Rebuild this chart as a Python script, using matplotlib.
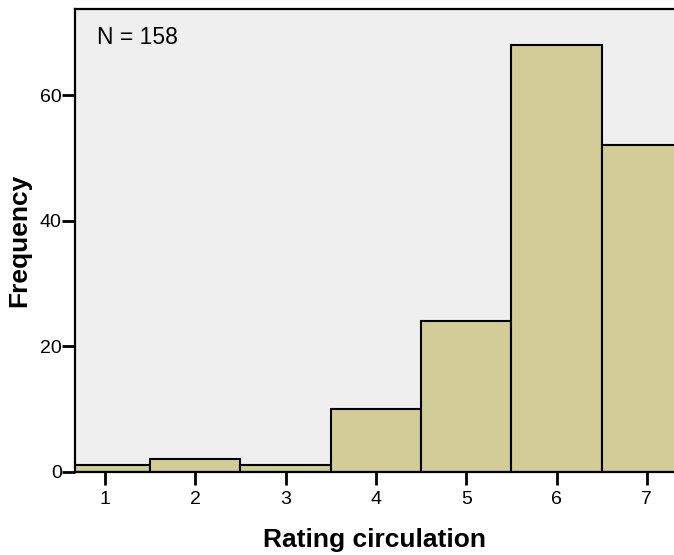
import numpy as np
import matplotlib.pyplot as plt

plt.rcParams['font.family'] = ['Liberation Sans', 'DejaVu Sans']

ratings = [1, 2, 3, 4, 5, 6, 7]
counts = [1, 2, 1, 10, 24, 68, 52]
yticks = [0, 20, 40, 60]

fig = plt.figure(figsize=(6.74, 5.55), dpi=100)
ax = fig.add_axes([0.1113, 0.150, 0.8887, 0.833])
ax.set_facecolor('#efefef')

ax.bar(ratings, counts, width=1.0, color='#d2cd98', edgecolor='black', linewidth=1.5, zorder=2)

ax.set_xlim(0.668, 7.30)
ax.set_ylim(0, 73.66)
ax.set_xticks(ratings)
ax.set_yticks(yticks)
ax.tick_params(axis='both', labelsize=14, width=2, color='black')
ax.tick_params(axis='x', length=9, pad=4.5)
ax.tick_params(axis='y', length=9.5, pad=0)

for s in ['left', 'top', 'bottom']:
    ax.spines[s].set_linewidth(1.6)
ax.spines['right'].set_visible(False)

ax.set_xlabel('Rating circulation', fontsize=19, fontweight='bold', labelpad=15)
ax.set_ylabel('Frequency', fontsize=19, fontweight='bold', labelpad=6.5)
ax.text(0.037, 0.965, 'N = 158', transform=ax.transAxes, fontsize=16.5, va='top', ha='left')

fig.savefig('out.png', dpi=100)
